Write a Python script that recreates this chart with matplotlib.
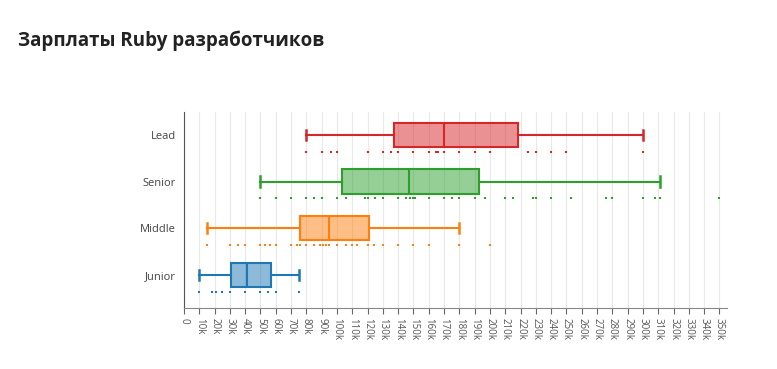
import matplotlib

matplotlib.use("Agg")
import matplotlib.pyplot as plt
import numpy as np

plt.rcParams["font.family"] = ["Open Sans", "DejaVu Sans"]

# levels, bottom to top
levels = ["Junior", "Middle", "Senior", "Lead"]
colors = ["#1f77b4", "#ff7f0e", "#2ca02c", "#d62728"]

# box stats, in thousands
whislo = [10, 15, 50, 80]
q1 = [31, 76, 103, 137]
median = [41, 95, 147, 170]
q3 = [57, 121, 193, 218]
whishi = [75, 180, 311, 300]

junior_pts = [10, 18, 21, 25, 30, 40, 50, 55, 60, 75]
middle_pts = [15, 30, 35, 40, 50, 53, 56, 60, 70, 74, 76, 80, 85, 89, 91, 93,
              95, 100, 106, 110, 113, 120, 124, 130, 140, 150, 160, 180, 200]
senior_pts = [50, 60, 70, 80, 85, 90, 100, 106, 118, 120, 125, 130, 140, 145,
              148, 150, 151, 160, 170, 175, 180, 190, 197, 210, 215, 228, 230,
              240, 253, 276, 280, 300, 308, 311, 350]
lead_pts = [80, 90, 96, 100, 120, 130, 135, 140, 150, 160, 165, 166, 170, 180,
            190, 200, 225, 230, 240, 250, 300]
points = [junior_pts, middle_pts, senior_pts, lead_pts]

ticks = list(range(0, 351, 10))
tick_labels = ["0"] + [f"{t}k" for t in ticks[1:]]

fig = plt.figure(figsize=(7.77, 3.69), dpi=100)
ax = fig.add_axes([0.2368, 0.1653, 0.699, 0.5312])

stats = []
for i, lvl in enumerate(levels):
    stats.append({"label": lvl, "whislo": whislo[i], "q1": q1[i], "med": median[i],
                  "q3": q3[i], "whishi": whishi[i], "fliers": []})

pos = np.arange(len(levels))
bp = ax.bxp(stats, positions=pos, vert=False, widths=0.52, patch_artist=True,
            showfliers=False, manage_ticks=False)
for i, c in enumerate(colors):
    bp["boxes"][i].set_facecolor(matplotlib.colors.to_rgba(c, 0.5))
    bp["boxes"][i].set_edgecolor(c)
    bp["boxes"][i].set_linewidth(1.5)
    bp["medians"][i].set_color(c)
    bp["medians"][i].set_linewidth(1.5)
    for j in (2 * i, 2 * i + 1):
        bp["whiskers"][j].set_color(c)
        bp["whiskers"][j].set_linewidth(1.5)
        bp["caps"][j].set_color(c)
        bp["caps"][j].set_linewidth(1.8)
    for k, cap in enumerate(bp["caps"][2 * i:2 * i + 2]):
        cap.set_ydata([pos[i] - 0.11, pos[i] + 0.11])

for i, pts in enumerate(points):
    ax.scatter(pts, np.full(len(pts), pos[i] - 0.36), s=3, marker="s",
               color=colors[i], linewidths=0, zorder=3)

ax.set_xlim(0, 355)
ax.set_ylim(-0.71, 3.49)
ax.set_xticks(ticks)
ax.set_xticklabels(tick_labels, rotation=-90, fontsize=7, color="#555555")
ax.set_yticks(pos)
ax.set_yticklabels(levels, fontsize=8, color="#444444")
ax.tick_params(axis="y", length=0, pad=6)
ax.tick_params(axis="x", length=4, color="#666666", width=0.8, pad=3)
ax.grid(axis="x", color="#e8e8e8", linewidth=0.8)
ax.set_axisbelow(True)
for s in ("top", "right"):
    ax.spines[s].set_visible(False)
ax.spines["left"].set_color("#555555")
ax.spines["bottom"].set_color("#888888")

fig.text(0.023, 0.89, "Зарплаты Ruby разработчиков", fontsize=13.5,
         fontweight="bold", color="#222222", va="center", ha="left")

fig.savefig("out.png", dpi=100)
